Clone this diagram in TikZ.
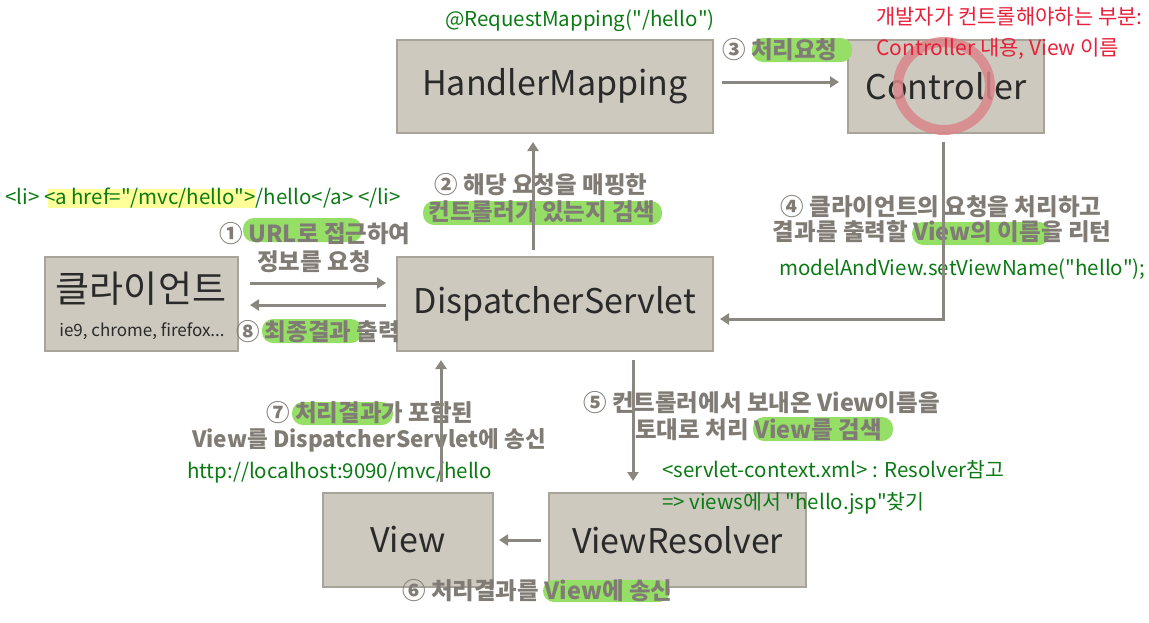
\documentclass[tikz,border=0pt]{standalone}
\usepackage{fontspec}
\setmainfont{Noto Sans CJK KR}
\usetikzlibrary{arrows.meta}
\definecolor{boxfill}{HTML}{CDC9BE}
\definecolor{boxline}{HTML}{A8A49A}
\definecolor{boxtext}{HTML}{2A2A2A}
\definecolor{arrcol}{HTML}{8A8780}
\definecolor{anntext}{HTML}{807C75}
\definecolor{hlgreen}{HTML}{96DF66}
\definecolor{hlyellow}{HTML}{FFFF99}
\definecolor{codegreen}{HTML}{0C7A14}
\definecolor{redtext}{HTML}{E8203A}
\definecolor{pinkring}{HTML}{D9868A}
\newcommand{\qq}{\textquotedbl}
\tikzset{
  comp/.style={draw=boxline, line width=1.2pt, fill=boxfill, text=boxtext, inner sep=0pt,
    font=\fontsize{34}{38}\selectfont},
  arr/.style={draw=arrcol, line width=3pt, -{Triangle[length=9pt,width=11pt]}},
  ann/.style={text=anntext, inner sep=0pt, font=\fontsize{23.5}{26}\selectfont\bfseries},
  code/.style={text=codegreen, inner sep=0pt, anchor=west, font=\fontsize{20.5}{23}\selectfont},
  redn/.style={text=redtext, inner sep=0pt, anchor=west, font=\fontsize{21}{24}\selectfont},
  hlg/.style={fill=hlgreen, rounded corners=11pt},
}
\begin{document}
\begin{tikzpicture}[x=1pt,y=-1pt]
\useasboundingbox (0,0) rectangle (1149,622);
% boxes
\node[comp, minimum width=316pt, minimum height=93pt] (hm) at (555,86.5) {HandlerMapping};
\node[comp, minimum width=196pt, minimum height=93pt] (ctrl) at (946,86.5) {Controller};
\node[comp, minimum width=193pt, minimum height=94pt] (client) at (141.5,304) {};
\node[comp, minimum width=316pt, minimum height=94pt] (disp) at (555,304) {DispatcherServlet};
\node[comp, minimum width=170pt, minimum height=94pt] (view) at (408,540) {View};
\node[comp, minimum width=257pt, minimum height=94pt] (vr) at (677.5,540) {ViewResolver};
\node[text=boxtext, inner sep=0pt, font=\fontsize{37}{40}\selectfont] (clientlbl) at (141,289) {클라이언트};
\node[text=boxtext, inner sep=0pt, font=\fontsize{17}{19}\selectfont] (clientsub) at (142,331) {ie9, chrome, firefox...};
% pink ring
\draw[pinkring, opacity=0.85, line width=10pt] (944,86) ellipse [x radius=46pt, y radius=44pt];
% highlights
\fill[hlyellow] (48,189) rectangle (255,208);
\fill[hlg] (752,38) rectangle (852,62);
\fill[hlg] (423,201) rectangle (662,225);
\fill[hlg] (243,218) rectangle (362,242);
\fill[hlg] (262,319) rectangle (362,343);
\fill[hlg] (912,222) rectangle (1050,245);
\fill[hlg] (292,402) rectangle (393,425);
\fill[hlg] (753,417) rectangle (893,441);
\fill[hlg] (543,580) rectangle (670,602);
% annotation texts
\node[ann, anchor=west] (t3) at (722,50) {③ 처리요청};
\node[ann] (t2a) at (541,185) {② 해당 요청을 매핑한};
\node[ann] (t2b) at (542,212) {컨트롤러가 있는지 검색};
\node[ann] (t1a) at (315,234) {① URL로 접근하여};
\node[ann] (t1b) at (314,262) {정보를 요청};
\node[ann] (t8) at (318,332) {⑧ 최종결과 출력};
\node[ann] (t4a) at (941,207) {④ 클라이언트의 요청을 처리하고};
\node[ann] (t4b) at (942,232) {결과를 출력할 View의 이름을 리턴};
\node[ann] (t7a) at (370,413) {⑦ 처리결과가 포함된};
\node[ann, font=\fontsize{22.5}{25}\selectfont\bfseries] (t7b) at (369,440) {View를 DispatcherServlet에 송신};
\node[ann, anchor=west] (t5a) at (583,403) {⑤ 컨트롤러에서 보내온 View이름을};
\node[ann, anchor=west] (t5b) at (635,430) {토대로 처리 View를 검색};
\node[ann, anchor=west] (t6) at (402,591) {⑥ 처리결과를 View에 송신};
% code texts
\node[code] (rm) at (445,21) {@RequestMapping(\qq/hello\qq)};
\node[code] (li) at (5,198) {<li> <a href=\qq/mvc/hello\qq>/hello</a> </li>};
\node[code] (mv) at (779,269) {modelAndView.setViewName(\qq hello\qq);};
\node[code] (url) at (187,473) {http://localhost:9090/mvc/hello};
\node[code] (sc) at (662,470) {<servlet-context.xml> : Resolver참고};
\node[code] (vj) at (662,503) {=> views에서 \qq hello.jsp\qq 찾기};
\node[redn] (r1) at (876,17) {개발자가 컨트롤해야하는 부분:};
\node[redn] (r2) at (876,49) {Controller 내용, View 이름};
% connector points
\coordinate (p1s) at (250,283); \coordinate (p1e) at (386,283);
\coordinate (p8s) at (386,305); \coordinate (p8e) at (250,305);
\coordinate (p2s) at (533,250); \coordinate (p2e) at (533,142);
\coordinate (p3s) at (722,82); \coordinate (p3e) at (839,82);
\coordinate (p4s) at (943,142); \coordinate (p4c) at (943,319); \coordinate (p4e) at (720,319);
\coordinate (p5s) at (633,360); \coordinate (p5e) at (633,481);
\coordinate (p6s) at (541,540); \coordinate (p6e) at (499,540);
\coordinate (p7s) at (441,482); \coordinate (p7e) at (441,360);
% connectors
\draw[arr] (p1s) -- (p1e);
\draw[arr] (p8s) -- (p8e);
\draw[arr] (p2s) -- (p2e);
\draw[arr] (p3s) -- (p3e);
\draw[arr] (p4s) -- (p4c) -- (p4e);
\draw[arr] (p5s) -- (p5e);
\draw[arr] (p6s) -- (p6e);
\draw[arr] (p7s) -- (p7e);
\end{tikzpicture}
\end{document}
